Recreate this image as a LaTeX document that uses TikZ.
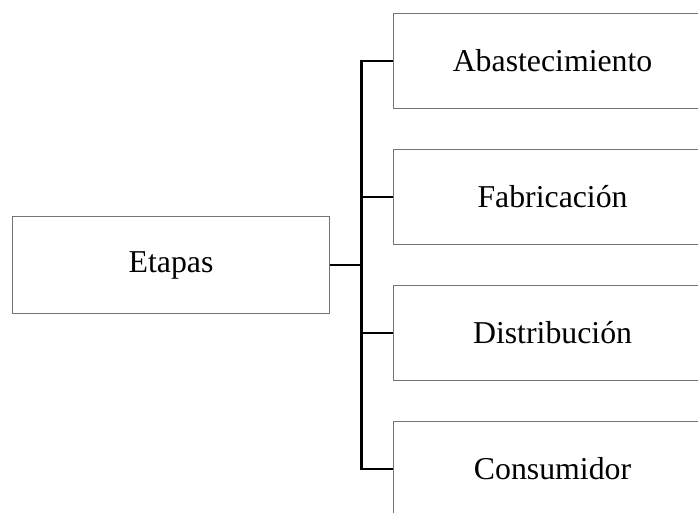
\documentclass[tikz,border=0pt]{standalone}
\usepackage{fontspec}
\setmainfont{Liberation Serif}
\begin{document}
\begin{tikzpicture}[x=1pt,y=-1pt,
  txt/.style={font=\fontsize{31.8}{36}\selectfont},
  box/.style={draw=black!55,line width=1.1pt,rectangle,minimum height=95pt,inner sep=0pt,txt},
  rbox/.style={box,minimum width=420pt,anchor=west},
  conn/.style={line width=2.4pt,black}]
\useasboundingbox (0,0) rectangle (698,512);
\clip (0,0) rectangle (698,512);
\fill[white] (0,0) rectangle (698,512);
\node[box,minimum width=317pt,minimum height=96.5pt] (e) at (171,265) {Etapas};
\node[rbox,label={[txt,xshift=-50.5pt]center:Abastecimiento}] (a) at (392.5,61) {};
\node[rbox,label={[txt,xshift=-50.5pt]center:Fabricación}] (f) at (392.5,197) {};
\node[rbox,label={[txt,xshift=-50.5pt]center:Distribución}] (d) at (392.5,333) {};
\node[rbox,minimum height=120pt,yshift=-12.5pt,label={[txt,xshift=-50.5pt,yshift=12.5pt]center:Consumidor}] (c) at (392.5,469) {};
\coordinate (t) at (361.5,265);
\draw[conn] (e.east) -- (t);
\draw[conn] (a.west) -| (t);
\draw[conn] (f.west) -| (t);
\draw[conn] (d.west) -| (t);
\draw[conn] ([yshift=12.5pt]c.west) -| (t);
\end{tikzpicture}
\end{document}
